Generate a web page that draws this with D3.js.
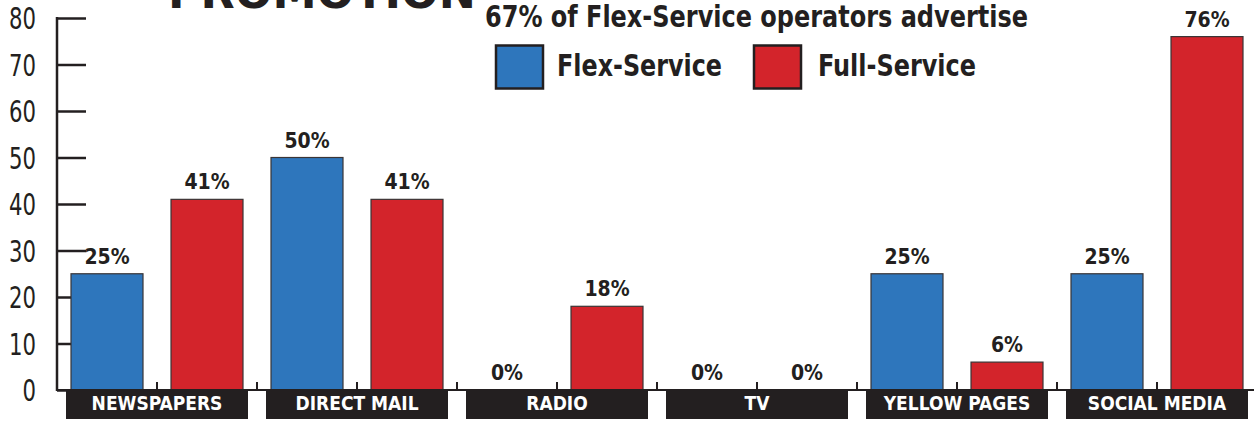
<!DOCTYPE html>
<html>
<head>
<meta charset="utf-8">
<script src="https://cdn.jsdelivr.net/npm/d3@7"></script>
<style>
    body { margin: 0; background: #fff; }
    svg { display: block; }
    .cond { font-family: "Liberation Sans Narrow", "DejaVu Sans Condensed", "Roboto Condensed", sans-serif; }
</style>
</head>
<body>
<div id="chart"></div>
<script>
// Data
const categories = ["NEWSPAPERS", "DIRECT MAIL", "RADIO", "TV", "YELLOW PAGES", "SOCIAL MEDIA"];
const seriesNames = ["Flex-Service", "Full-Service"];
const flexValues = [25, 50, 0, 0, 25, 25];
const fullValues = [41, 41, 18, 0, 6, 76];
const yTicks = [0, 10, 20, 30, 40, 50, 60, 70, 80];
const colors = ["#2e76bc", "#d3242b"];
const dark = "#231f20";

const W = 1254, H = 422;
const margin = {top: 18, left: 57, bottom: 32};

const svg = d3.select("#chart").append("svg")
    .attr("width", W)
    .attr("height", H);

// Scales
const x0 = d3.scaleBand()
    .domain(categories)
    .range([margin.left, margin.left + 200 * categories.length])
    .paddingInner(0)
    .paddingOuter(0);
const x1 = d3.scaleBand()
    .domain(seriesNames)
    .range([0, x0.bandwidth()])
    .paddingInner(0.28)
    .paddingOuter(0.14);
const y = d3.scaleLinear()
    .domain([0, 80])
    .range([H - margin.bottom, margin.top]);

const table = categories.map((c, i) => ({cat: c, values: [flexValues[i], fullValues[i]]}));

// Partial title at top edge (clipped in the original too)
svg.append("text")
    .attr("x", 168)
    .attr("y", 8)
    .attr("textLength", 308)
    .attr("lengthAdjust", "spacingAndGlyphs")
    .style("font-family", "DejaVu Sans")
    .style("font-weight", "bold")
    .style("font-size", "44px")
    .attr("fill", dark)
    .text("PROMOTION");

// Subtitle
svg.append("text")
    .attr("class", "cond")
    .attr("x", 485)
    .attr("y", 27)
    .attr("textLength", 543)
    .attr("lengthAdjust", "spacingAndGlyphs")
    .style("font-weight", "bold")
    .style("font-size", "30px")
    .attr("fill", dark)
    .text("67% of Flex-Service operators advertise");

// Legend
const legendX = [496, 754];
const legendTextX = [557, 818];
const legendTextW = [165, 158];
seriesNames.forEach((s, i) => {
    svg.append("rect")
        .attr("x", legendX[i])
        .attr("y", 45.5)
        .attr("width", 47)
        .attr("height", 43)
        .attr("fill", colors[i])
        .attr("stroke", dark)
        .attr("stroke-width", 2.5);
    svg.append("text")
        .attr("class", "cond")
        .attr("x", legendTextX[i])
        .attr("y", 76)
        .attr("textLength", legendTextW[i])
        .attr("lengthAdjust", "spacingAndGlyphs")
        .style("font-weight", "bold")
        .style("font-size", "30px")
        .attr("fill", dark)
        .text(s);
});

// Y axis
const yAxis = d3.axisRight(y)
    .tickValues(yTicks)
    .tickSize(29)
    .tickFormat("");
const yG = svg.append("g")
    .attr("transform", `translate(${margin.left},0)`)
    .call(yAxis);
yG.select(".domain").remove();
yG.selectAll("line").attr("stroke", dark).attr("stroke-width", 2.5);
svg.append("line")
    .attr("x1", margin.left).attr("x2", margin.left)
    .attr("y1", y(80) - 1).attr("y2", y(0) + 1)
    .attr("stroke", dark).attr("stroke-width", 2.5);

svg.selectAll(".ylab")
    .data(yTicks)
    .join("text")
    .attr("class", "ylab cond")
    .attr("x", 36)
    .attr("y", d => y(d) + 11)
    .attr("text-anchor", "end")
    .attr("textLength", d => String(d).length * 13.5)
    .attr("lengthAdjust", "spacingAndGlyphs")
    .style("font-size", "31px")
    .attr("fill", dark)
    .text(d => d);

// Bars
const groups = svg.selectAll(".grp")
    .data(table)
    .join("g")
    .attr("class", "grp")
    .attr("transform", d => `translate(${x0(d.cat)},0)`);

groups.selectAll("rect")
    .data(d => d.values.map((v, i) => ({series: seriesNames[i], v: v, i: i})))
    .join("rect")
    .attr("x", d => x1(d.series))
    .attr("y", d => y(d.v))
    .attr("width", x1.bandwidth())
    .attr("height", d => y(0) - y(d.v))
    .attr("fill", d => colors[d.i])
    .attr("stroke", d => d.v > 0 ? "#3a3536" : "none")
    .attr("stroke-width", 1.2);

groups.selectAll(".val")
    .data(d => d.values.map((v, i) => ({series: seriesNames[i], v: v})))
    .join("text")
    .attr("class", "val cond")
    .attr("x", d => x1(d.series) + x1.bandwidth() / 2)
    .attr("y", d => y(d.v) - 10)
    .attr("text-anchor", "middle")
    .style("font-weight", "bold")
    .style("font-size", "21px")
    .attr("fill", dark)
    .text(d => d.v + "%");

// X baseline and ticks
svg.append("line")
    .attr("x1", margin.left).attr("x2", W)
    .attr("y1", y(0)).attr("y2", y(0))
    .attr("stroke", dark).attr("stroke-width", 2);

const tickXs = [];
categories.forEach(c => {
    tickXs.push(x0(c) + x0.bandwidth() / 2);
    tickXs.push(x0(c) + x0.bandwidth());
});
svg.selectAll(".xt")
    .data(tickXs.filter(t => t < W))
    .join("line")
    .attr("class", "xt")
    .attr("x1", d => d).attr("x2", d => d)
    .attr("y1", y(0)).attr("y2", y(0) - 8)
    .attr("stroke", dark).attr("stroke-width", 2);

// Category label boxes
const boxes = svg.selectAll(".cat")
    .data(categories)
    .join("g")
    .attr("class", "cat")
    .attr("transform", d => `translate(${x0(d) + x0.bandwidth() / 2},0)`);
boxes.append("rect")
    .attr("x", -91)
    .attr("y", y(0) - 1)
    .attr("width", 182)
    .attr("height", 30)
    .attr("fill", dark);
boxes.append("text")
    .attr("class", "cond")
    .attr("y", y(0) + 20)
    .attr("text-anchor", "middle")
    .style("font-weight", "bold")
    .style("font-size", "19px")
    .attr("fill", "#fff")
    .text(d => d);
</script>
</body>
</html>
